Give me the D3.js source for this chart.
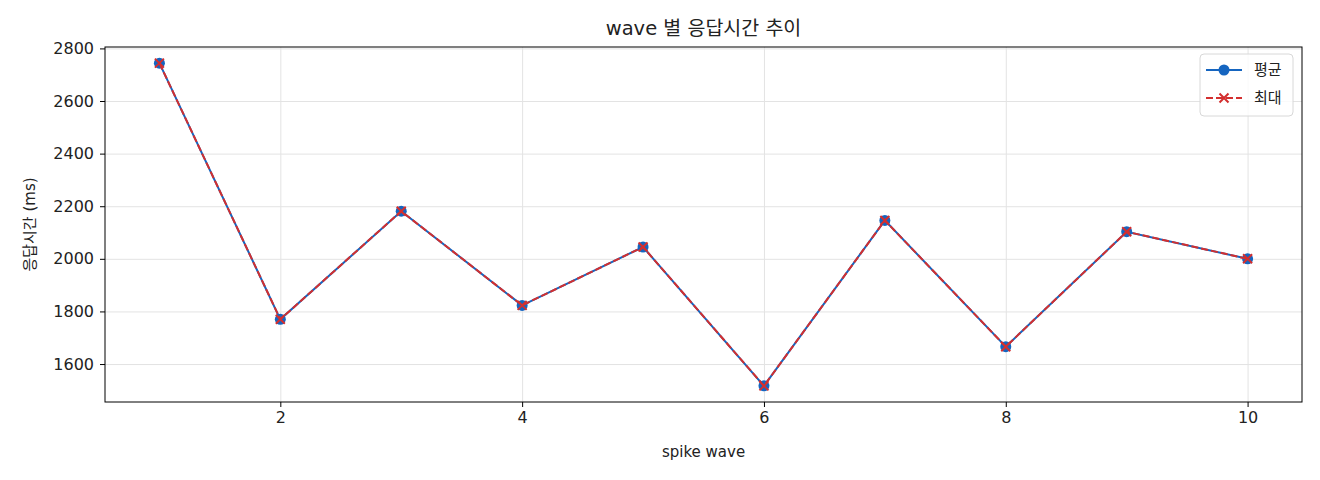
<!DOCTYPE html>
<meta charset="utf-8">
<style>
  body { margin: 0; background: #fff; }
  svg text { font-family: "DejaVu Sans", "Noto Sans CJK KR", sans-serif; fill: #222; }
  .grid line { stroke: #e3e3e3; stroke-width: 1; }
  .grid .domain { display: none; }
  .axis text { font-size: 16px; font-family: "DejaVu Sans", sans-serif; }
  .axis line, .axis path { stroke: #000; }
</style>
<svg width="1320" height="480"></svg>
<script src="https://cdn.jsdelivr.net/npm/d3@7"></script>
<script>

var waves = [1, 2, 3, 4, 5, 6, 7, 8, 9, 10];
var avgMs = [2744, 1770, 2181, 1823, 2045, 1517, 2146, 1666, 2103, 2000];
var maxMs = [2744, 1770, 2181, 1823, 2045, 1517, 2146, 1666, 2103, 2000];
var xTicks = [2, 4, 6, 8, 10];
var yTicks = [1600, 1800, 2000, 2200, 2400, 2600, 2800];

var svg = d3.select("svg"),
    margin = {top: 47, right: 18, bottom: 78, left: 105},
    width = +svg.attr("width") - margin.left - margin.right,
    height = +svg.attr("height") - margin.top - margin.bottom,
    g = svg.append("g").attr("transform", "translate(" + margin.left + "," + margin.top + ")");

// matplotlib-like 5% margins
var xr = d3.extent(waves), xp = (xr[1] - xr[0]) * 0.05;
var allY = avgMs.concat(maxMs);
var yr = d3.extent(allY), yp = (yr[1] - yr[0]) * 0.05;

var x = d3.scaleLinear().domain([xr[0] - xp, xr[1] + xp]).range([0, width]);
var y = d3.scaleLinear().domain([yr[0] - yp, yr[1] + yp]).range([height, 0]);

// grid
g.append("g").attr("class", "grid")
    .call(d3.axisBottom(x).tickValues(xTicks).tickSize(height).tickFormat(""));
g.append("g").attr("class", "grid")
    .call(d3.axisLeft(y).tickValues(yTicks).tickSize(-width).tickFormat(""));

var line = d3.line()
    .x(function(d, i) { return x(waves[i]); })
    .y(function(d) { return y(d); });

var blue = "#1565c0", red = "#d32f2f";

// 평균
g.append("path").datum(avgMs)
    .attr("fill", "none").attr("stroke", blue).attr("stroke-width", 2)
    .attr("d", line);
g.selectAll(".avgdot").data(avgMs).enter().append("circle")
    .attr("cx", function(d, i) { return x(waves[i]); })
    .attr("cy", function(d) { return y(d); })
    .attr("r", 5.5).attr("fill", blue);

// 최대
g.append("path").datum(maxMs)
    .attr("fill", "none").attr("stroke", red).attr("stroke-width", 2)
    .attr("stroke-dasharray", "7,3")
    .attr("d", line);

function cross(sel, cx, cy, s) {
  sel.append("path")
      .attr("d", "M" + (cx - s) + "," + (cy - s) + "L" + (cx + s) + "," + (cy + s) +
                 "M" + (cx - s) + "," + (cy + s) + "L" + (cx + s) + "," + (cy - s))
      .attr("stroke", red).attr("stroke-width", 2).attr("fill", "none");
}
maxMs.forEach(function(d, i) { cross(g, x(waves[i]), y(d), 4.5); });

// frame
g.append("rect").attr("width", width).attr("height", height)
    .attr("fill", "none").attr("stroke", "#000").attr("stroke-width", 1);

g.append("g").attr("class", "axis")
    .attr("transform", "translate(0," + height + ")")
    .call(d3.axisBottom(x).tickValues(xTicks).tickSize(5).tickPadding(5).tickFormat(d3.format("d")))
    .call(function(a) { a.select(".domain").remove(); });

g.append("g").attr("class", "axis")
    .call(d3.axisLeft(y).tickValues(yTicks).tickSize(5).tickPadding(6).tickFormat(d3.format("d")))
    .call(function(a) { a.select(".domain").remove(); });

// labels
svg.append("text")
    .attr("x", margin.left + width / 2).attr("y", 35)
    .attr("text-anchor", "middle").attr("font-size", 19.5)
    .text("wave 별 응답시간 추이");

svg.append("text")
    .attr("x", margin.left + width / 2).attr("y", 457)
    .attr("text-anchor", "middle").attr("font-size", 15)
    .text("spike wave");

svg.append("text")
    .attr("transform", "translate(35," + (margin.top + height / 2) + ") rotate(-90)")
    .attr("text-anchor", "middle").attr("font-size", 15)
    .text("응답시간 (ms)");

// legend
var legend = g.append("g").attr("transform", "translate(" + (width - 102) + ",7)");
legend.append("rect")
    .attr("width", 93).attr("height", 62).attr("rx", 4)
    .attr("fill", "#fff").attr("fill-opacity", 0.8)
    .attr("stroke", "#d8d8d8");
legend.append("line").attr("x1", 6).attr("x2", 42).attr("y1", 16).attr("y2", 16)
    .attr("stroke", blue).attr("stroke-width", 2);
legend.append("circle").attr("cx", 24).attr("cy", 16).attr("r", 5.5).attr("fill", blue);
legend.append("line").attr("x1", 6).attr("x2", 42).attr("y1", 44).attr("y2", 44)
    .attr("stroke", red).attr("stroke-width", 2).attr("stroke-dasharray", "7,3");
cross(legend, 24, 44, 4.5);
legend.append("text").attr("x", 54).attr("y", 16).attr("dy", "0.35em")
    .attr("font-size", 15).text("평균");
legend.append("text").attr("x", 54).attr("y", 44).attr("dy", "0.35em")
    .attr("font-size", 15).text("최대");

</script>
